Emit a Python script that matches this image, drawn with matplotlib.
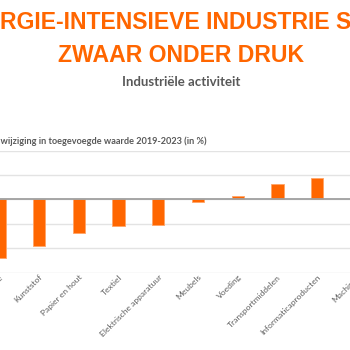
import matplotlib
matplotlib.use("Agg")
import matplotlib.pyplot as plt
from matplotlib.transforms import ScaledTranslation

categories = ["Chemie", "Kunststof", "Papier en hout", "Textiel", "Elektrische apparatuur",
              "Meubels", "Voeding", "Transportmiddelen", "Informaticaproducten", "Machines"]
values = [-24.2, -18.9, -13.7, -11.0, -10.4, -1.2, 1.4, 6.4, 8.7, 10.0]
title = "ENERGIE-INTENSIEVE INDUSTRIE STAAT\nZWAAR ONDER DRUK"
subtitle = "Industriële activiteit"
axis_label = "Procentuele wijziging in toegevoegde waarde 2019-2023 (in %)"

W = H = 350.0
fig = plt.figure(figsize=(3.5, 3.5), dpi=100)
fig.patch.set_facecolor("white")

n = len(categories)
step = 39.7
x0 = -0.5
left_px = x0 - 0.5 * step
right_px = x0 + (n - 0.5) * step
top_px, bot_px = 150.7, 272.6
ax = fig.add_axes([left_px / W, 1 - bot_px / H, (right_px - left_px) / W, (bot_px - top_px) / H])

xs = list(range(n))
ax.bar(xs, values, width=0.31, color="#FF6600", edgecolor="#FFA466", linewidth=0.6, zorder=3)
ax.set_xlim(-0.5, n - 0.5)
ax.set_ylim(-30, 20)
ax.set_yticks([-30, -20, -10, 0, 10, 20])
ax.yaxis.grid(True, color="#E3E3E3", linewidth=1.0, zorder=0)
ax.axhline(0, color="#A0A0A0", linewidth=1.3, zorder=4)
ax.tick_params(axis="y", left=False, labelleft=False)
for s in ax.spines.values():
    s.set_visible(False)
ax.set_xticks(xs)
ax.set_xticklabels(categories, rotation=45, ha="right", va="center", rotation_mode="anchor",
                   fontsize=6.1, color="#606060", family="Lato")
ax.tick_params(axis="x", length=0, pad=3.5)
off = ScaledTranslation(2.5 / 100, 1.5 / 100, fig.dpi_scale_trans)
for lab in ax.get_xticklabels():
    lab.set_transform(lab.get_transform() + off)

fig.text(181 / W, 1 - 39 / H, title, ha="center", va="center", color="#FF6600",
         fontsize=16.6, fontweight="bold", family="Liberation Sans", linespacing=1.55)
fig.text(181.5 / W, 1 - 82 / H, subtitle, ha="center", va="center", color="#595959",
         fontsize=9.5, fontweight="bold", family="Lato")
fig.text(207 / W, 1 - 141 / H, axis_label, ha="right", va="center", color="#595959",
         fontsize=6.6, fontweight="bold", family="Lato")

fig.savefig("out.png", dpi=100)
